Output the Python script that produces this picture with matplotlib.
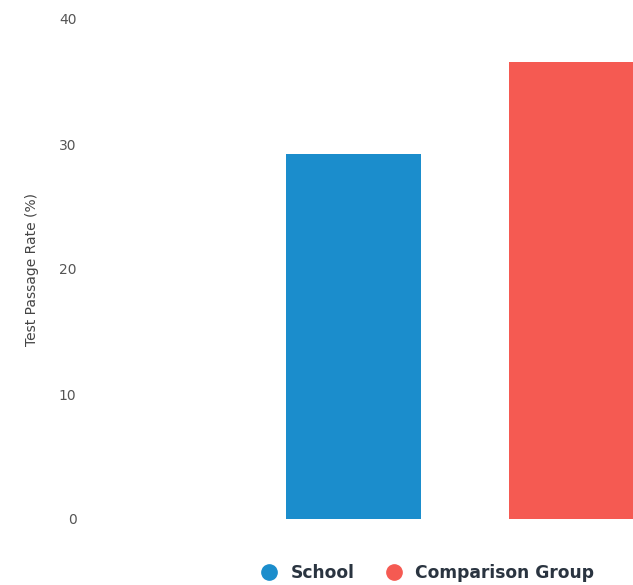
import matplotlib.pyplot as plt
from matplotlib.lines import Line2D

groups = ["School", "Comparison Group"]
rates = [29.2, 36.6]
colors = ["#1b8dcc", "#f55a52"]
y_ticks = [0, 10, 20, 30, 40]

W, H = 633, 585
fig = plt.figure(figsize=(W / 100, H / 100), dpi=100)
ax = fig.add_axes([100 / W, 66 / H, 533 / W, 500 / H])

ax.bar(range(len(groups)), rates, width=0.605, color=colors)
ax.set_xlim(-1.137, 1.253)
ax.set_ylim(0, 40)
ax.set_yticks(y_ticks)
ax.set_xticks([])
ax.tick_params(axis="y", length=0, pad=17, labelsize=10, labelcolor="#555555")
for s in ax.spines.values():
    s.set_visible(False)
ax.set_ylabel("Test Passage Rate (%)", fontsize=10, color="#444444", labelpad=14)

handles = [Line2D([], [], marker="o", linestyle="", markersize=11, color=c) for c in colors]
leg = fig.legend(handles, groups, loc="center", ncol=2, frameon=False,
                 bbox_to_anchor=(423 / W, 12 / H), handletextpad=0.25, columnspacing=1.3,
                 prop={"weight": "bold", "size": 12.3})
for t in leg.get_texts():
    t.set_color("#2a3440")

fig.savefig("out.png", dpi=100)
